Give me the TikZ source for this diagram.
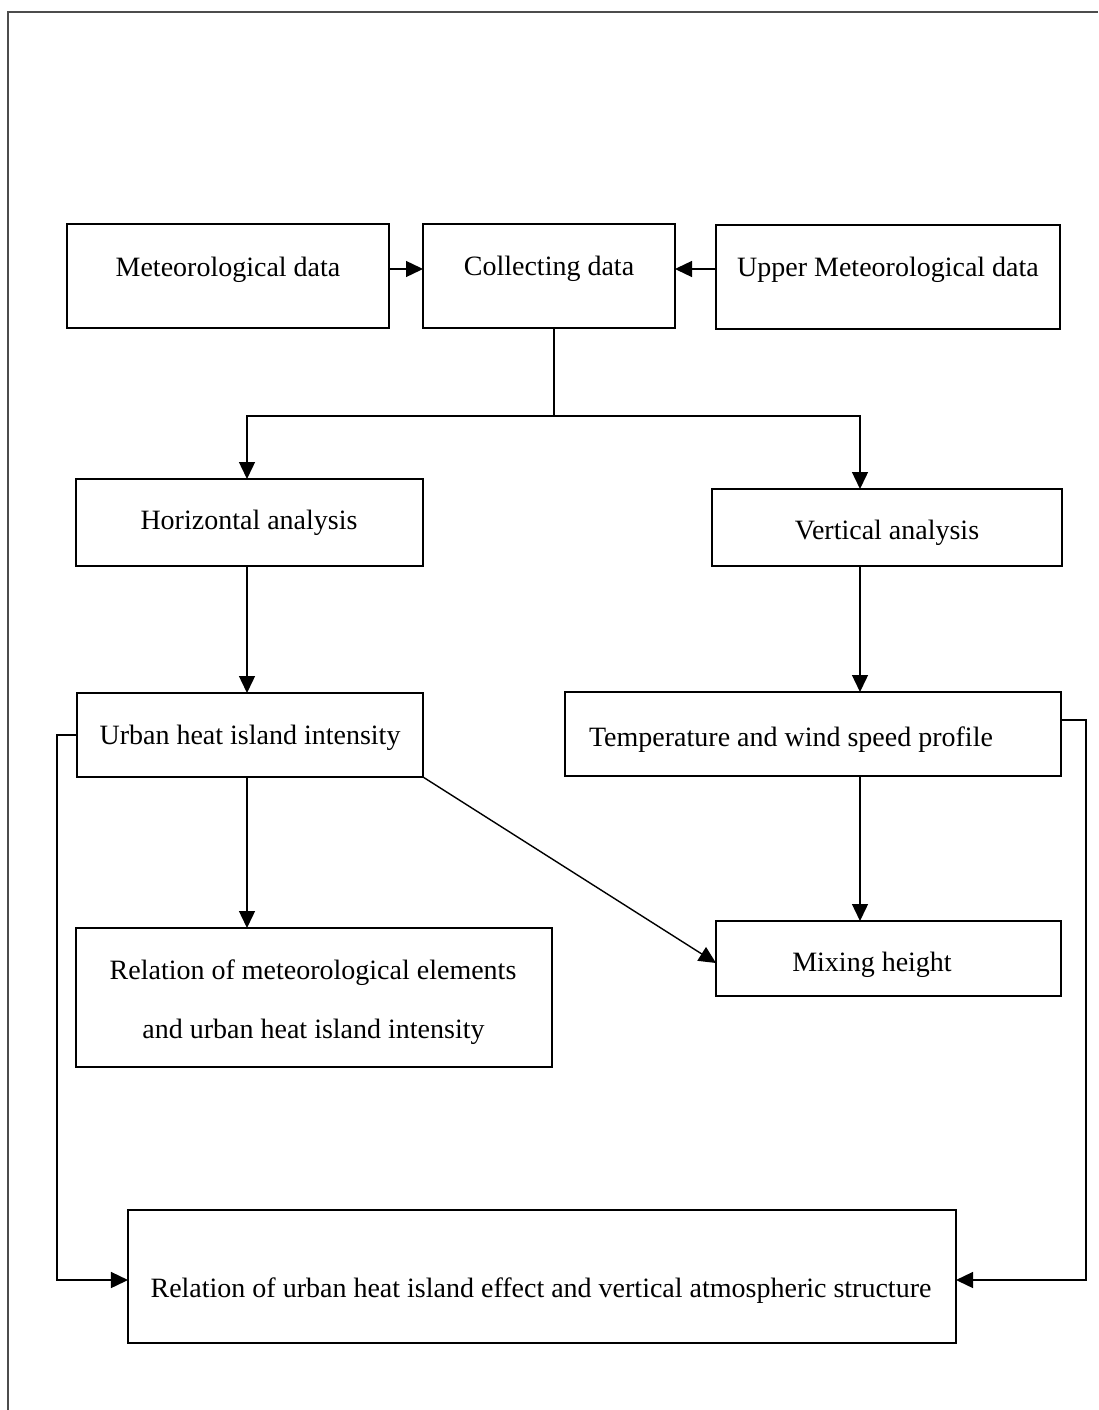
\documentclass[tikz,border=0pt]{standalone}
\usepackage{fontspec}
\setmainfont{Liberation Serif}
\usetikzlibrary{arrows.meta,calc}
\begin{document}
\begin{tikzpicture}[x=1bp,y=-1bp,
  box/.style={draw,line width=1.6bp,inner sep=0pt,outer sep=0pt},
  lbl/.style={font=\fontsize{28bp}{34bp}\selectfont,inner sep=0pt,anchor=base},
  arr/.style={line width=1.4bp,-{Triangle[length=17bp,width=16bp]}},
  ln/.style={line width=1.4bp}]
\useasboundingbox (0,0) rectangle (1098,1410);
\fill[white] (0,0) rectangle (1098,1410);
\draw[line width=1.5bp,black!70] (8,1410) -- (8,12) -- (1098,12);
% boxes
\node[box,minimum width=322bp,minimum height=104bp] (met) at (228,276) {};
\node[box,minimum width=252bp,minimum height=104bp] (coll) at (549,276) {};
\node[box,minimum width=344bp,minimum height=104bp] (upper) at (888,277) {};
\node[box,minimum width=347bp,minimum height=87bp] (horiz) at (249.5,522.5) {};
\node[box,minimum width=350bp,minimum height=77bp] (vert) at (887,527.5) {};
\node[box,minimum width=346bp,minimum height=84bp] (urban) at (250,735) {};
\node[box,minimum width=496bp,minimum height=84bp] (temp) at (813,734) {};
\node[box,minimum width=345bp,minimum height=75bp] (mix) at (888.5,958.5) {};
\node[box,minimum width=476bp,minimum height=139bp] (relm) at (314,997.5) {};
\node[box,minimum width=828bp,minimum height=133bp] (final) at (542,1276.5) {};
% texts
\node[lbl] (metT) at (228,277) {Meteorological data};
\node[lbl] (collT) at (549,276) {Collecting data};
\node[lbl] (upperT) at (888,277) {Upper Meteorological data};
\node[lbl] (horizT) at (249,529) {Horizontal analysis};
\node[lbl] (vertT) at (887,539) {Vertical analysis};
\node[lbl] (urbanT) at (250,744) {Urban heat island intensity};
\node[lbl] (tempT) at (791,746) {Temperature and wind speed profile};
\node[lbl] (mixT) at (872,971) {Mixing height};
\node[lbl] (relmTa) at (313,979) {Relation of meteorological elements};
\node[lbl] (relmTb) at (313.5,1038) {and urban heat island intensity};
\node[lbl] (finalT) at (541,1297) {Relation of urban heat island effect and vertical atmospheric structure};
% connectors
\draw[arr] ([yshift=7bp]met.east) -- ([yshift=7bp]coll.west);
\coordinate (ca) at ([yshift=7bp]coll.east);
\draw[arr] (ca -| upper.west) -- (ca);
\coordinate (cs) at ([xshift=5bp]coll.south);
\coordinate (ch) at (247,416);
\coordinate (cv) at (860,416);
\draw[ln] (cs) -- (cs |- ch);
\draw[arr] (cs |- ch) -- (ch) -- (ch |- horiz.north);
\draw[arr] (cs |- ch) -- (cv) -- (cv |- vert.north);
\draw[arr] (ch |- horiz.south) -- (ch |- urban.north);
\draw[arr] (cv |- vert.south) -- (cv |- temp.north);
\draw[arr] (ch |- urban.south) -- (ch |- relm.north);
\draw[arr] (cv |- temp.south) -- (cv |- mix.north);
\draw[arr] (urban.south east) -- ([yshift=-4.5bp]mix.west);
\coordinate (lx) at (57,0);
\coordinate (rx) at (1086,0);
\coordinate (fl) at ([yshift=-3.5bp]final.west);
\coordinate (fr) at ([yshift=-3.5bp]final.east);
\coordinate (tr) at ([yshift=14bp]temp.east);
\draw[arr] (urban.west) -- (urban.west -| lx) |- (fl);
\draw[arr] (tr) -- (tr -| rx) |- (fr);
\end{tikzpicture}
\end{document}
